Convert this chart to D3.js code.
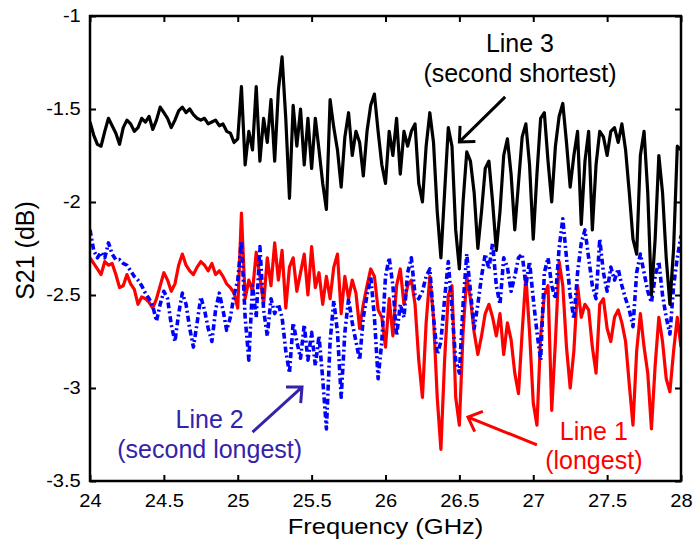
<!DOCTYPE html>
<html>
<head>
<meta charset="utf-8">
<title>S21 vs frequency</title>
<script src="https://cdn.jsdelivr.net/npm/d3@7"></script>
<style>
  body { margin: 0; background: #fff; }
  svg text { font-family: "Liberation Sans", Arial, sans-serif; }
</style>
</head>
<body>
<svg id="chart" width="694" height="545"></svg>
<script>
// frequency grid (GHz) shared by all three traces
var freqStart = 24, freqStep = 0.025;

// Line 1 (longest) - red
var line1 = [
  -2.30,-2.33,-2.36,-2.39,-2.32,-2.34,-2.33,-2.39,-2.46,-2.45,
  -2.39,-2.44,-2.47,-2.55,-2.51,-2.52,-2.54,-2.57,-2.52,-2.45,
  -2.38,-2.42,-2.48,-2.44,-2.34,-2.28,-2.34,-2.37,-2.39,-2.35,
  -2.32,-2.34,-2.37,-2.33,-2.39,-2.37,-2.40,-2.44,-2.46,-2.49,
  -2.57,-2.06,-2.52,-2.42,-2.48,-2.27,-2.40,-2.55,-2.30,-2.45,
  -2.22,-2.42,-2.26,-2.57,-2.35,-2.30,-2.48,-2.38,-2.28,-2.50,
  -2.24,-2.46,-2.38,-2.55,-2.40,-2.52,-2.35,-2.28,-2.60,-2.40,
  -2.52,-2.42,-2.49,-2.68,-2.55,-2.45,-2.36,-2.40,-2.58,-2.62,
  -2.78,-2.52,-2.72,-2.45,-2.36,-2.55,-2.45,-2.42,-2.55,-2.85,
  -3.05,-2.65,-2.40,-2.62,-3.05,-3.33,-2.85,-2.50,-2.45,-3.05,
  -3.20,-2.70,-2.40,-2.52,-2.70,-2.82,-2.72,-2.60,-2.55,-2.62,
  -2.72,-2.60,-2.82,-2.65,-2.74,-2.92,-3.03,-2.70,-2.40,-2.70,
  -3.08,-3.20,-2.72,-2.50,-2.45,-3.12,-2.75,-2.32,-2.45,-2.78,
  -3.00,-2.80,-2.45,-2.62,-2.55,-2.58,-2.78,-2.92,-2.55,-2.52,
  -2.68,-2.75,-2.62,-2.58,-2.65,-2.75,-2.98,-3.20,-2.80,-2.60,
  -2.78,-2.92,-3.22,-2.88,-2.62,-2.75,-2.95,-3.02,-2.80,-2.62,
  -2.78
];

// Line 2 (second longest) - blue dash-dot
var line2 = [
  -2.15,-2.26,-2.30,-2.27,-2.30,-2.22,-2.28,-2.31,-2.31,-2.33,
  -2.34,-2.37,-2.40,-2.42,-2.45,-2.49,-2.52,-2.56,-2.64,-2.55,
  -2.48,-2.52,-2.66,-2.75,-2.60,-2.49,-2.55,-2.68,-2.78,-2.65,
  -2.51,-2.58,-2.68,-2.75,-2.58,-2.49,-2.58,-2.69,-2.62,-2.50,
  -2.42,-2.21,-2.62,-2.85,-2.45,-2.62,-2.24,-2.58,-2.72,-2.52,
  -2.60,-2.55,-2.62,-2.80,-2.92,-2.65,-2.75,-2.84,-2.66,-2.85,
  -2.70,-2.88,-2.72,-2.95,-3.22,-2.75,-2.53,-2.70,-3.05,-2.70,
  -2.52,-2.65,-2.75,-2.85,-2.62,-2.50,-2.40,-2.62,-2.95,-2.75,
  -2.40,-2.30,-2.45,-2.72,-2.55,-2.62,-2.38,-2.30,-2.50,-2.52,
  -2.48,-2.40,-2.36,-2.62,-2.82,-2.75,-2.52,-2.32,-2.58,-2.85,
  -2.92,-2.55,-2.28,-2.48,-2.68,-2.55,-2.40,-2.28,-2.36,-2.22,
  -2.45,-2.55,-2.30,-2.35,-2.48,-2.40,-2.30,-2.28,-2.45,-2.32,
  -2.52,-2.70,-2.85,-2.38,-2.30,-2.45,-2.52,-2.25,-2.09,-2.30,
  -2.50,-2.63,-2.38,-2.22,-2.15,-2.30,-2.45,-2.52,-2.20,-2.38,
  -2.48,-2.35,-2.42,-2.36,-2.45,-2.52,-2.58,-2.67,-2.38,-2.28,
  -2.38,-2.48,-2.54,-2.40,-2.32,-2.50,-2.62,-2.71,-2.45,-2.30,
  -2.18
];

// Line 3 (second shortest) - black
var line3 = [
  -1.57,-1.64,-1.69,-1.70,-1.62,-1.55,-1.59,-1.63,-1.69,-1.60,
  -1.56,-1.58,-1.62,-1.60,-1.55,-1.57,-1.54,-1.61,-1.56,-1.49,
  -1.52,-1.55,-1.60,-1.56,-1.51,-1.49,-1.52,-1.50,-1.53,-1.55,
  -1.56,-1.55,-1.58,-1.57,-1.56,-1.59,-1.58,-1.62,-1.63,-1.68,
  -1.66,-1.38,-1.80,-1.62,-1.72,-1.38,-1.78,-1.55,-1.68,-1.45,
  -1.78,-1.40,-1.22,-1.55,-1.98,-1.48,-1.70,-1.50,-1.80,-1.55,
  -1.82,-1.55,-1.72,-1.90,-2.04,-1.45,-1.60,-1.72,-1.92,-1.65,
  -1.52,-1.75,-1.62,-1.68,-1.86,-1.62,-1.48,-1.42,-1.62,-1.80,
  -1.90,-1.62,-1.75,-1.55,-1.85,-1.62,-1.70,-1.62,-1.58,-1.90,
  -2.00,-1.70,-1.52,-1.68,-2.05,-2.30,-1.95,-1.60,-1.70,-2.15,
  -2.36,-2.00,-1.73,-1.78,-1.95,-2.25,-2.05,-1.82,-1.78,-2.00,
  -2.26,-2.05,-1.75,-1.66,-1.85,-2.15,-1.90,-1.65,-1.58,-1.80,
  -2.20,-1.85,-1.55,-1.52,-1.78,-2.00,-1.70,-1.54,-1.47,-1.68,
  -1.92,-1.75,-1.62,-2.12,-1.78,-1.62,-2.15,-1.80,-1.62,-1.65,
  -1.75,-1.62,-1.60,-1.68,-1.58,-1.72,-1.95,-2.20,-2.28,-1.75,
  -1.62,-1.95,-2.50,-2.20,-1.75,-1.95,-2.30,-2.55,-2.25,-1.70,
  -1.72
];

var xTicks = [24, 24.5, 25, 25.5, 26, 26.5, 27, 27.5, 28];
var yTicks = [-3.5, -3, -2.5, -2, -1.5, -1];

// annotation labels and arrows, in data units (GHz, dB)
var labels = [
  {text: ["Line 3", "(second shortest)"], f: 26.91, db: [-1.194, -1.355], color: "#000000",
   arrow: {from: [26.81, -1.435], to: [26.50, -1.677]}},
  {text: ["Line 2", "(second longest)"], f: 24.81, db: [-3.215, -3.376], color: "#3322aa",
   arrow: {from: [25.10, -3.237], to: [25.435, -2.995]}},
  {text: ["Line 1", "(longest)"], f: 27.41, db: [-3.280, -3.436], color: "#ff0000",
   arrow: {from: [27.025, -3.306], to: [26.558, -3.156]}}
];

// plot box in pixels ("top" is taken by window.top, so prefix them)
var pLeft = 90, pRight = 681, pTop = 16, pBottom = 481;

var svg = d3.select("#chart");

var x = d3.scaleLinear().domain([24, 28]).range([pLeft, pRight]);
var y = d3.scaleLinear().domain([-3.5, -1]).range([pBottom, pTop]);

svg.append("defs").append("clipPath").attr("id", "plotclip")
  .append("rect")
  .attr("x", pLeft).attr("y", pTop)
  .attr("width", pRight - pLeft).attr("height", pBottom - pTop);

var line = d3.line()
  .x(function(d, i) { return x(freqStart + i * freqStep); })
  .y(function(d) { return y(d); });

var series = [
  {vals: line1, color: "#ff0000", dash: null, w: 3.2},
  {vals: line2, color: "#0000ff", dash: "6,3,2,3", w: 3.6},
  {vals: line3, color: "#000000", dash: null, w: 3.2}
];

var g = svg.append("g").attr("clip-path", "url(#plotclip)");
series.forEach(function(s) {
  g.append("path")
    .attr("d", line(s.vals))
    .attr("fill", "none")
    .attr("stroke", s.color)
    .attr("stroke-width", s.w)
    .attr("stroke-linejoin", "round")
    .attr("stroke-dasharray", s.dash);
});

// axes: ticks point inward, mirrored on top and right
var fmt = function(d) { return String(d); };
var axB = svg.append("g").attr("transform", "translate(0," + pBottom + ")")
  .call(d3.axisBottom(x).tickValues(xTicks).tickFormat(fmt)
        .tickSizeInner(-6).tickSizeOuter(0).tickPadding(14));
var axL = svg.append("g").attr("transform", "translate(" + pLeft + ",0)")
  .call(d3.axisLeft(y).tickValues(yTicks).tickFormat(fmt)
        .tickSizeInner(-6).tickSizeOuter(0).tickPadding(8));
var axT = svg.append("g").attr("transform", "translate(0," + pTop + ")")
  .call(d3.axisTop(x).tickValues(xTicks).tickFormat("")
        .tickSizeInner(-6).tickSizeOuter(0));
var axR = svg.append("g").attr("transform", "translate(" + pRight + ",0)")
  .call(d3.axisRight(y).tickValues(yTicks).tickFormat("")
        .tickSizeInner(-6).tickSizeOuter(0));

[axB, axL, axT, axR].forEach(function(a) {
  a.select(".domain").remove();
  a.selectAll(".tick line").attr("stroke", "#000").attr("stroke-width", 2);
  a.selectAll(".tick text")
    .attr("fill", "#000")
    .style("font-size", "17.5px")
    .attr("transform", "scale(1.15,1)");
});

svg.append("rect")
  .attr("x", pLeft).attr("y", pTop)
  .attr("width", pRight - pLeft).attr("height", pBottom - pTop)
  .attr("fill", "none").attr("stroke", "#000").attr("stroke-width", 2.5);

// axis titles
svg.append("text")
  .attr("transform", "translate(" + ((pLeft + pRight) / 2) + ",534) scale(1.16,1)")
  .attr("text-anchor", "middle")
  .style("font-size", "22px")
  .text("Frequency (GHz)");

svg.append("text")
  .attr("transform", "translate(34," + ((pTop + pBottom) / 2 + 2) + ") rotate(-90)")
  .attr("text-anchor", "middle")
  .style("font-size", "25px")
  .text("S21 (dB)");

// annotations
labels.forEach(function(l) {
  l.text.forEach(function(t, k) {
    svg.append("text")
      .attr("x", x(l.f)).attr("y", y(l.db[k]))
      .attr("text-anchor", "middle")
      .attr("fill", l.color)
      .style("font-size", "25px")
      .text(t);
  });
  var x0 = x(l.arrow.from[0]), y0 = y(l.arrow.from[1]);
  var x1 = x(l.arrow.to[0]), y1 = y(l.arrow.to[1]);
  var ang = Math.atan2(y0 - y1, x0 - x1), len = 16, spread = 0.75;
  var p = d3.path();
  p.moveTo(x0, y0); p.lineTo(x1, y1);
  p.moveTo(x1 + len * Math.cos(ang - spread), y1 + len * Math.sin(ang - spread));
  p.lineTo(x1, y1);
  p.lineTo(x1 + len * Math.cos(ang + spread), y1 + len * Math.sin(ang + spread));
  svg.append("path")
    .attr("d", p.toString())
    .attr("fill", "none")
    .attr("stroke", l.color)
    .attr("stroke-width", 3);
});
</script>
</body>
</html>
